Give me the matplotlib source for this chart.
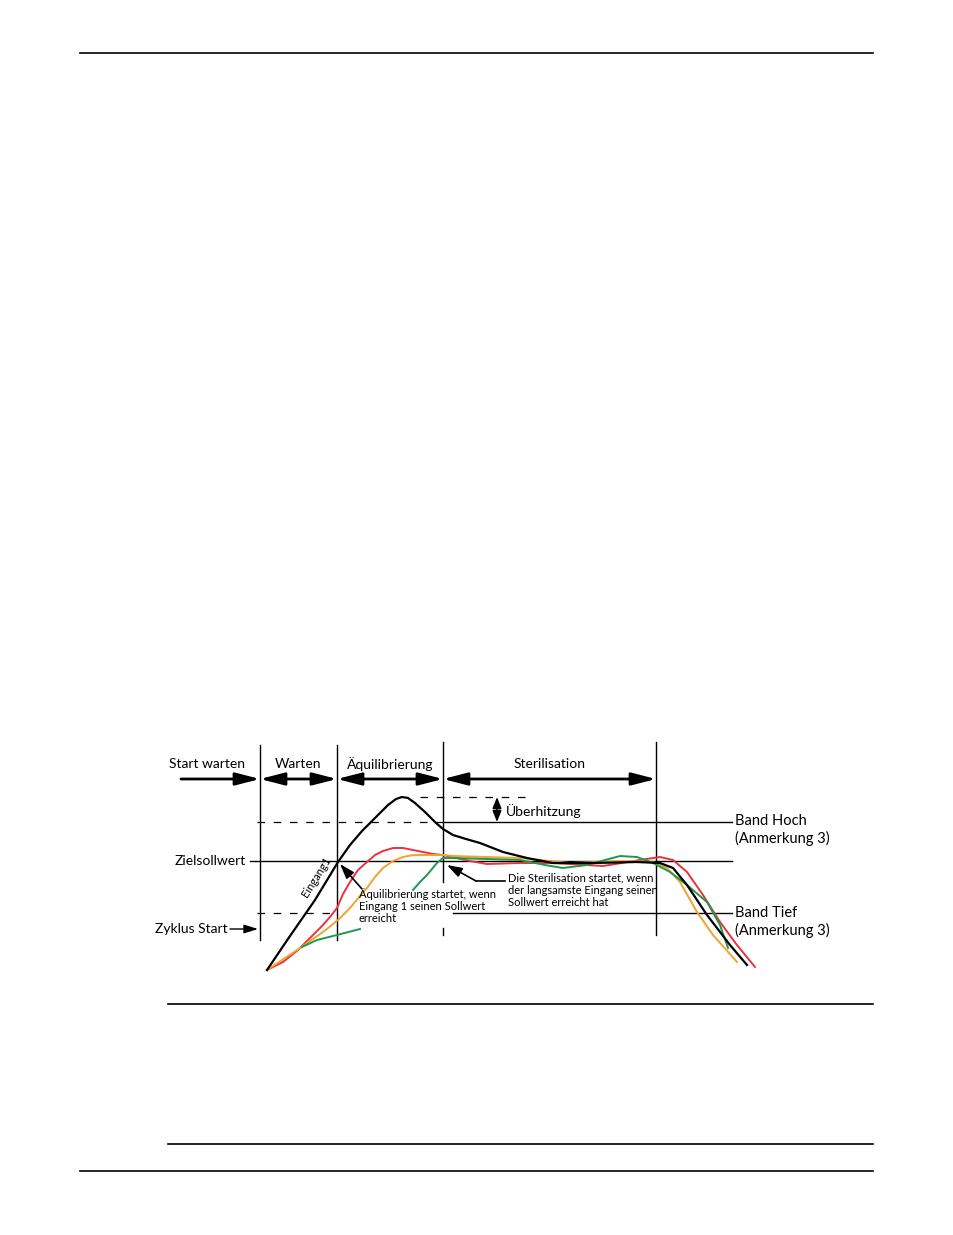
import numpy as np
import matplotlib
matplotlib.use("Agg")
from matplotlib import pyplot as plt

plt.rcParams['font.family'] = ['Lato', 'DejaVu Sans']

# Kurven (Pixelkoordinaten der Vorlage: x nach rechts, y nach unten)
eingang1_x = [267, 290, 315, 338, 350, 362, 378, 388, 396, 402, 408, 415, 425, 436, 443, 453, 466, 480, 503, 527, 553, 593, 637, 660, 673, 687, 707, 730, 747]
eingang1_y = [970, 936, 900, 862, 845, 831, 815, 805, 799, 797, 798, 803, 812, 823, 829, 835, 839, 843, 852, 858, 863, 863, 862, 863, 868, 885, 915, 945, 965]

rot_x = [267, 283, 298, 310, 322, 330, 337, 343, 350, 358, 367, 375, 383, 393, 403, 413, 423, 433, 443, 456, 470, 487, 520, 553, 603, 640, 660, 673, 687, 703, 720, 737, 755]
rot_y = [970, 962, 950, 938, 926, 917, 908, 894, 882, 870, 862, 855, 851, 848, 848, 850, 852, 854, 855, 858, 861, 864, 863, 863, 866, 860, 857, 860, 872, 895, 922, 945, 967]

orange_x = [267, 285, 300, 323, 338, 350, 360, 367, 375, 383, 393, 403, 413, 423, 443, 453, 520, 570, 620, 653, 667, 680, 697, 713, 737]
orange_y = [970, 958, 948, 932, 920, 908, 896, 888, 877, 868, 861, 857, 855, 855, 855, 856, 858, 863, 861, 862, 868, 882, 912, 935, 962]

gruen1_x = [302, 317, 337, 360]
gruen1_y = [947, 940, 935, 929]
gruen2_x = [413, 420, 427, 437, 443, 453, 520, 545, 563, 587, 605, 620, 637, 653, 670, 687, 707, 720, 728]
gruen2_y = [890, 882, 875, 863, 858, 858, 860, 865, 868, 865, 860, 856, 857, 863, 872, 885, 902, 925, 948]

# Phasen
phasen = ["Warten", "Äquilibrierung", "Sterilisation"]
phasen_grenzen = [260, 337, 443, 656]

fig = plt.figure(figsize=(9.54, 12.35), dpi=100)
ax = fig.add_axes([0, 0, 1, 1])
ax.set_xlim(0, 954)
ax.set_ylim(1235, 0)
ax.axis('off')

# Seitenlinien
ax.plot([80, 873], [53, 53], color='black', lw=1.2)
ax.plot([168, 873], [1004, 1004], color='black', lw=1.2)
ax.plot([168, 873], [1144, 1144], color='black', lw=1.2)
ax.plot([80, 873], [1171, 1171], color='black', lw=1.2)

# vertikale Linien
ax.plot([260, 260], [745, 940], color='black', lw=1)
ax.plot([337, 337], [745, 940], color='black', lw=1)
ax.plot([443, 443], [742, 882], color='black', lw=1)
ax.plot([443, 443], [928, 935], color='black', lw=1)
ax.plot([656, 656], [742, 935], color='black', lw=1)

# horizontale Linien
dash = dict(color='black', lw=0.9, dashes=(6, 7))
ax.plot([420, 525], [797, 797], **dash)
ax.plot([257, 443], [822, 822], **dash)
ax.plot([443, 732], [822, 822], color='black', lw=1)
ax.plot([250, 732], [861, 861], color='black', lw=1)
ax.plot([257, 337], [913, 913], **dash)
ax.plot([453, 732], [913, 913], color='black', lw=1)

# Pfeile der Phasen
pfeil = dict(color='black', lw=2, shrinkA=0, shrinkB=0, mutation_scale=14)
ax.annotate('', xy=(260, 779), xytext=(181, 779),
            arrowprops=dict(arrowstyle='-|>,head_length=1.05,head_width=0.27', **pfeil))
for i, name in enumerate(phasen):
    x0, x1 = phasen_grenzen[i], phasen_grenzen[i + 1]
    ax.annotate('', xy=(x1, 779), xytext=(x0, 779),
                arrowprops=dict(arrowstyle='<|-|>,head_length=1.05,head_width=0.27', **pfeil))
    ax.text((x0 + x1) / 2, 764, name, ha='center', va='center', fontsize=10)
ax.text(207, 764, "Start warten", ha='center', va='center', fontsize=10)

# Überhitzung
ax.annotate('', xy=(497, 797), xytext=(497, 822),
            arrowprops=dict(arrowstyle='<|-|>,head_length=0.55,head_width=0.22',
                            color='black', lw=1.2, shrinkA=0, shrinkB=0, mutation_scale=12))
ax.text(506, 811, "Überhitzung", ha='left', va='center', fontsize=10)

# Beschriftungen rechts / links
ax.text(735, 830, "Band Hoch\n(Anmerkung 3)", ha='left', va='center', fontsize=10.5, linespacing=1.2)
ax.text(735, 922, "Band Tief\n(Anmerkung 3)", ha='left', va='center', fontsize=10.5, linespacing=1.2)
ax.text(246, 861, "Zielsollwert", ha='right', va='center', fontsize=10)
ax.text(228, 929, "Zyklus Start", ha='right', va='center', fontsize=10)
ax.annotate('', xy=(258, 929), xytext=(230, 929),
            arrowprops=dict(arrowstyle='-|>,head_length=0.7,head_width=0.22',
                            color='black', lw=1, shrinkA=0, shrinkB=0, mutation_scale=12))

# Kurven
ax.plot(rot_x, rot_y, color='#e8323f', lw=1.4)
ax.plot(orange_x, orange_y, color='#f0a32e', lw=1.4)
ax.plot(gruen1_x, gruen1_y, color='#1b9a4b', lw=1.4)
ax.plot(gruen2_x, gruen2_y, color='#1b9a4b', lw=1.4)
ax.plot(eingang1_x, eingang1_y, color='black', lw=1.6)

ax.text(316, 877, "Eingang1", rotation=58, ha='center', va='center', fontsize=8)

# Hinweise
ax.text(359, 906, "Äquilibrierung startet, wenn\nEingang 1 seinen Sollwert\nerreicht",
        ha='left', va='center', fontsize=8, linespacing=1.15)
ax.annotate('', xy=(340, 864), xytext=(362, 889),
            arrowprops=dict(arrowstyle='-|>,head_length=0.75,head_width=0.25',
                            color='black', lw=1.2, shrinkA=0, shrinkB=0, mutation_scale=12))
ax.text(508, 890, "Die Sterilisation startet, wenn\nder langsamste Eingang seinen\nSollwert erreicht hat",
        ha='left', va='center', fontsize=8, linespacing=1.15)
ax.plot([505, 476], [881, 881], color='black', lw=1.2)
ax.annotate('', xy=(447, 865), xytext=(476, 881),
            arrowprops=dict(arrowstyle='-|>,head_length=0.75,head_width=0.25',
                            color='black', lw=1.2, shrinkA=0, shrinkB=0, mutation_scale=12))

fig.savefig('out.png', dpi=100)
